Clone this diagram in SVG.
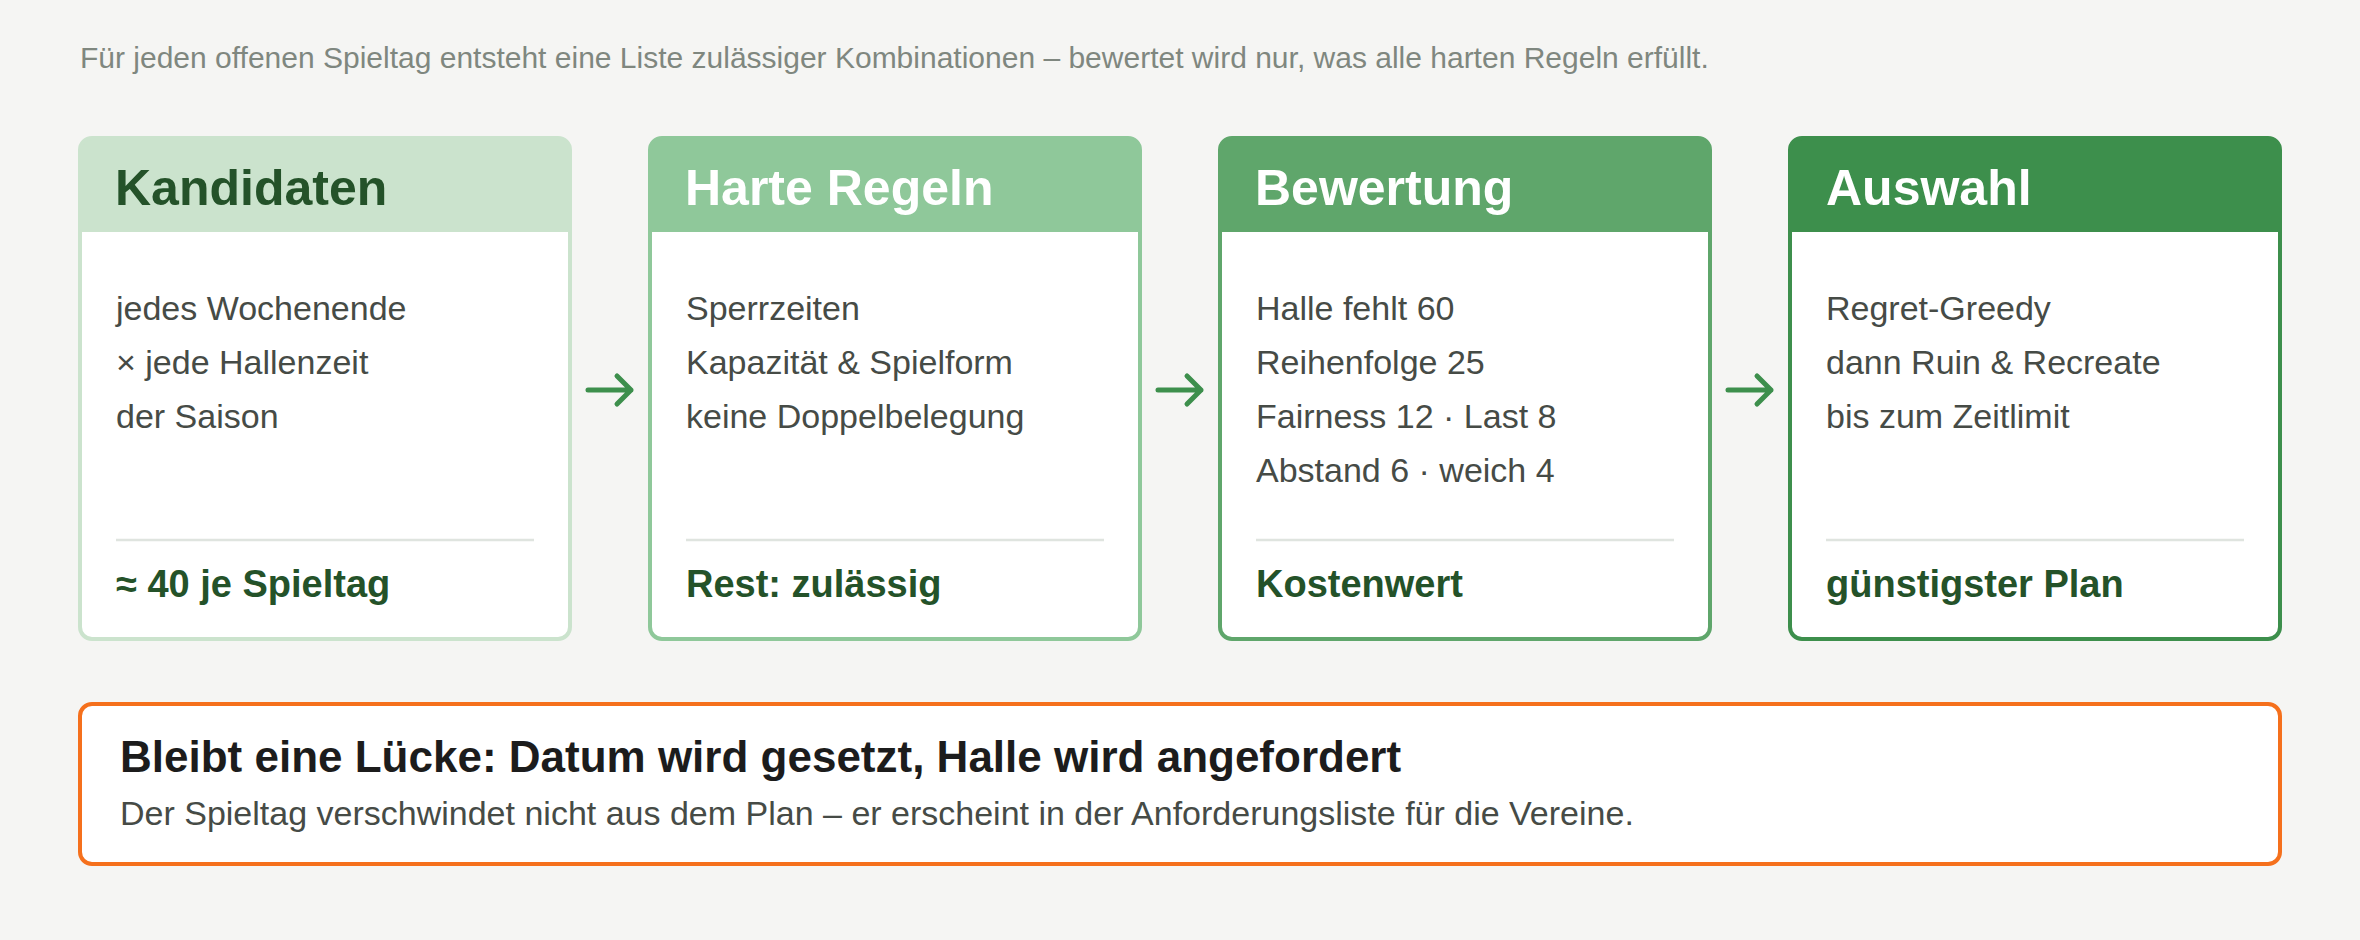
<svg xmlns="http://www.w3.org/2000/svg" width="2360" height="940" viewBox="0 0 2360 940">
<defs>
<style>
text{font-family:"Liberation Sans",Arial,sans-serif}
.sub{font-size:30px;fill:#7f877f}
.title{font-size:50px;font-weight:bold}
.body{font-size:34px;fill:#464b46}
.foot{font-size:38px;font-weight:bold;fill:#245229}
.div{stroke:#dfe4df;stroke-width:2.5}
.frame{fill:none;stroke-width:4}
.arrow{fill:none;stroke:#3d8f4c;stroke-width:5;stroke-linecap:round;stroke-linejoin:round}
.ntitle{font-size:44px;font-weight:bold;fill:#1c1c1c}
.nbody{font-size:34px;fill:#464b46}
</style>
</defs>
<rect width="2360" height="940" fill="#f5f5f3"/>
<text class="sub" x="80" y="68">Für jeden offenen Spieltag entsteht eine Liste zulässiger Kombinationen – bewertet wird nur, was alle harten Regeln erfüllt.</text>

<g id="kandidaten">
<rect x="80" y="138" width="490" height="501" rx="12" fill="#ffffff"/>
<path d="M80,232 V150 A12,12 0 0 1 92,138 H558 A12,12 0 0 1 570,150 V232 Z" fill="#cbe3cd"/>
<rect class="frame" x="80" y="138" width="490" height="501" rx="12" stroke="#cbe3cd"/>
<text class="title" x="115" y="205" fill="#245229">Kandidaten</text>
<text class="body" x="116" y="320">jedes Wochenende</text>
<text class="body" x="116" y="374">× jede Hallenzeit</text>
<text class="body" x="116" y="428">der Saison</text>
<line class="div" x1="116" y1="540" x2="534" y2="540"/>
<text class="foot" x="116" y="597">≈ 40 je Spieltag</text>
</g>

<g id="harte-regeln">
<rect x="650" y="138" width="490" height="501" rx="12" fill="#ffffff"/>
<path d="M650,232 V150 A12,12 0 0 1 662,138 H1128 A12,12 0 0 1 1140,150 V232 Z" fill="#8fc89a"/>
<rect class="frame" x="650" y="138" width="490" height="501" rx="12" stroke="#8fc89a"/>
<text class="title" x="685" y="205" fill="#ffffff">Harte Regeln</text>
<text class="body" x="686" y="320">Sperrzeiten</text>
<text class="body" x="686" y="374">Kapazität &amp; Spielform</text>
<text class="body" x="686" y="428">keine Doppelbelegung</text>
<line class="div" x1="686" y1="540" x2="1104" y2="540"/>
<text class="foot" x="686" y="597">Rest: zulässig</text>
</g>

<g id="bewertung">
<rect x="1220" y="138" width="490" height="501" rx="12" fill="#ffffff"/>
<path d="M1220,232 V150 A12,12 0 0 1 1232,138 H1698 A12,12 0 0 1 1710,150 V232 Z" fill="#5fa66b"/>
<rect class="frame" x="1220" y="138" width="490" height="501" rx="12" stroke="#5fa66b"/>
<text class="title" x="1255" y="205" fill="#ffffff">Bewertung</text>
<text class="body" x="1256" y="320">Halle fehlt 60</text>
<text class="body" x="1256" y="374">Reihenfolge 25</text>
<text class="body" x="1256" y="428">Fairness 12 · Last 8</text>
<text class="body" x="1256" y="482">Abstand 6 · weich 4</text>
<line class="div" x1="1256" y1="540" x2="1674" y2="540"/>
<text class="foot" x="1256" y="597">Kostenwert</text>
</g>

<g id="auswahl">
<rect x="1790" y="138" width="490" height="501" rx="12" fill="#ffffff"/>
<path d="M1790,232 V150 A12,12 0 0 1 1802,138 H2268 A12,12 0 0 1 2280,150 V232 Z" fill="#3d8f4c"/>
<rect class="frame" x="1790" y="138" width="490" height="501" rx="12" stroke="#3d8f4c"/>
<text class="title" x="1826" y="205" fill="#ffffff">Auswahl</text>
<text class="body" x="1826" y="320">Regret-Greedy</text>
<text class="body" x="1826" y="374">dann Ruin &amp; Recreate</text>
<text class="body" x="1826" y="428">bis zum Zeitlimit</text>
<line class="div" x1="1826" y1="540" x2="2244" y2="540"/>
<text class="foot" x="1826" y="597">günstigster Plan</text>
</g>

<g id="connectors">
<path class="arrow" d="M588,390 H631 M617,376 L631,390 L617,404"/>
<path class="arrow" d="M1158,390 H1201 M1187,376 L1201,390 L1187,404"/>
<path class="arrow" d="M1728,390 H1771 M1757,376 L1771,390 L1757,404"/>
</g>

<g id="hinweis">
<rect x="80" y="704" width="2200" height="160" rx="12" fill="#ffffff" stroke="#f5701c" stroke-width="4"/>
<text class="ntitle" x="120" y="772">Bleibt eine Lücke: Datum wird gesetzt, Halle wird angefordert</text>
<text class="nbody" x="120" y="825">Der Spieltag verschwindet nicht aus dem Plan – er erscheint in der Anforderungsliste für die Vereine.</text>
</g>
</svg>
